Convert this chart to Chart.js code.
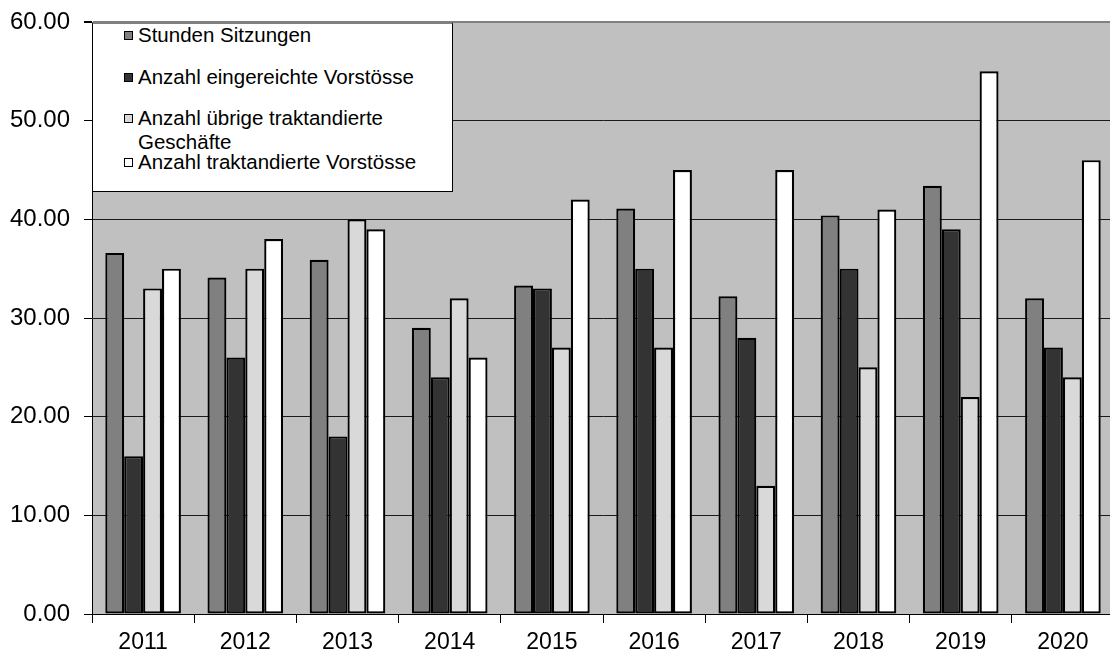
<!DOCTYPE html>
<html>
<head>
<meta charset="utf-8">
<script src="https://cdn.jsdelivr.net/npm/chart.js@4"></script>
<style>
  html, body { margin: 0; padding: 0; background: #fff; overflow: hidden; }
  #wrap { position: relative; width: 1114px; height: 654px; }
  #legend {
    position: absolute; left: 92px; top: 22px; width: 359px; height: 167px;
    background: #fff; border: 1px solid #000; border-top: 2px solid #808080;
    font-family: "Liberation Sans", Arial, sans-serif; font-size: 20.5px; color: #000;
  }
  .item { position: absolute; left: 31px; }
  .box { position: absolute; left: 0; width: 7px; height: 7px; border: 1.5px solid #000; }
  .txt { position: absolute; left: 14px; white-space: nowrap; line-height: 24px; }
</style>
</head>
<body>
<div id="wrap">
  <canvas id="myChart"></canvas>
  <div id="legend"></div>
</div>
<script>
const years = ["2011", "2012", "2013", "2014", "2015", "2016", "2017", "2018", "2019", "2020"];
const stundenSitzungen = [36.6, 34.1, 35.9, 29.0, 33.3, 41.1, 32.2, 40.4, 43.4, 32.0];
const eingereichteVorstoesse = [16, 26, 18, 24, 33, 35, 28, 35, 39, 27];
const uebrigeGeschaefte = [33, 35, 40, 32, 27, 27, 13, 25, 22, 24];
const traktandierteVorstoesse = [35, 38, 39, 26, 42, 45, 45, 41, 55, 46];
const seriesNames = [
  "Stunden Sitzungen",
  "Anzahl eingereichte Vorstösse",
  "Anzahl übrige traktandierte\nGeschäfte",
  "Anzahl traktandierte Vorstösse",
];
const seriesColors = ["#808080", "#333333", "#d9d9d9", "#ffffff"];
const yTicks = [0, 10, 20, 30, 40, 50, 60];

// legend rows (top of first text line, relative to legend box)
const legendTops = [-1, 41, 82, 126];

let legend = document.getElementById("legend");
seriesNames.forEach(function (name, i) {
  let item = document.createElement("div");
  item.className = "item";
  item.style.top = legendTops[i] + "px";
  let box = document.createElement("div");
  box.className = "box";
  box.style.top = "8px";
  box.style.background = seriesColors[i];
  let txt = document.createElement("div");
  txt.className = "txt";
  txt.style.top = "0px";
  txt.innerHTML = name.replace("\n", "<br>");
  item.appendChild(box);
  item.appendChild(txt);
  legend.appendChild(item);
});

const plotBg = {
  id: "plotBg",
  beforeDraw(chart) {
    let { ctx, chartArea } = chart;
    ctx.save();
    ctx.fillStyle = "#c0c0c0";
    ctx.fillRect(chartArea.left, chartArea.top, chartArea.right - chartArea.left, chartArea.bottom - chartArea.top);
    ctx.restore();
  },
};

let allValues = [stundenSitzungen, eingereichteVorstoesse, uebrigeGeschaefte, traktandierteVorstoesse];

const chart = new Chart(document.getElementById("myChart"), {
  type: "bar",
  data: {
    labels: years,
    datasets: allValues.map(function (vals, i) {
      return {
        label: seriesNames[i].replace("\n", " "),
        data: vals,
        backgroundColor: seriesColors[i],
        borderColor: "#000",
        borderWidth: 2.2,
        borderSkipped: false,
        categoryPercentage: 0.74,
        barPercentage: 1.0,
      };
    }),
  },
  options: {
    responsive: true,
    maintainAspectRatio: false,
    animation: false,
    layout: { padding: { top: 22, right: 0, left: 0, bottom: 0 } },
    plugins: {
      legend: { display: false },
      tooltip: { enabled: false },
    },
    scales: {
      x: {
        offset: true,
        grid: {
          display: true,
          offset: true,
          drawOnChartArea: false,
          tickLength: 9,
          tickColor: "#000",
        },
        border: { display: true, color: "#000", width: 1 },
        ticks: {
          color: "#000",
          padding: 6,
          font: { family: "'Liberation Sans', Arial, sans-serif", size: 23 },
        },
        afterFit(scale) {
          scale.height = 40;
          scale.paddingLeft = 0;
          scale.paddingRight = 0;
        },
      },
      y: {
        min: 0,
        max: 60,
        afterBuildTicks(scale) { scale.ticks = yTicks.map((v) => ({ value: v })); },
        grid: {
          color: (c) => (c.tick && c.tick.value === 60 ? "#808080" : "#1a1a1a"),
          lineWidth: (c) => (c.tick && c.tick.value === 60 ? 2 : 1),
          tickLength: 8,
          tickColor: "#000",
        },
        border: { display: true, color: "#000", width: 1 },
        ticks: {
          color: "#000",
          padding: 14,
          font: { family: "'Liberation Sans', Arial, sans-serif", size: 24 },
          callback: (v) => Number(v).toFixed(2),
        },
        afterFit(scale) {
          scale.width = 92;
          scale.paddingTop = 0;
          scale.paddingBottom = 0;
        },
      },
    },
  },
  plugins: [plotBg],
});
</script>
</body>
</html>
